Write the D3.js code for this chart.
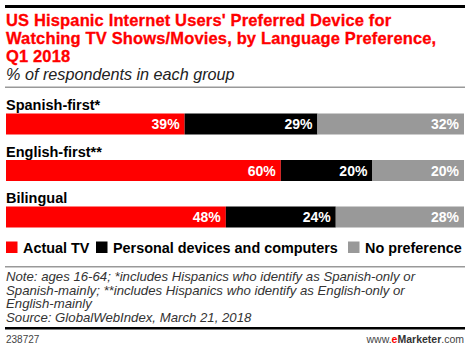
<!DOCTYPE html>
<html><head><meta charset="utf-8">
<script src="https://cdn.jsdelivr.net/npm/d3@7/dist/d3.min.js"></script>
<style>body{margin:0;background:#fff}svg{display:block}text{font-family:"Liberation Sans",Arial,sans-serif}</style>
</head><body><svg id="c" width="470" height="351"></svg>
<script>
const categories = ["Spanish-first*", "English-first**", "Bilingual"];
const seriesNames = ["Actual TV", "Personal devices and computers", "No preference"];
const actualTV = [39, 60, 48];
const personalDevices = [29, 20, 24];
const noPreference = [32, 20, 28];
const colors = ["#ff0000", "#000000", "#999999"];
const titleLines = ["US Hispanic Internet Users' Preferred Device for", "Watching TV Shows/Movies, by Language Preference,", "Q1 2018"];
const subtitle = "% of respondents in each group";
const noteLines = ["Note: ages 16-64; *includes Hispanics who identify as Spanish-only or", "Spanish-mainly; **includes Hispanics who identify as English-only or", "English-mainly", "Source: GlobalWebIndex, March 21, 2018"];

const svg = d3.select("#c");
const L = 6, R = 464;
svg.append("rect").attr("x", 5).attr("y", 5).attr("width", 460).attr("height", 3).attr("fill", "#000");
svg.append("g").selectAll("text").data(titleLines).join("text")
  .attr("x", L).attr("y", (d, i) => 26 + i * 18)
  .attr("fill", "#ff0000").attr("font-weight", "bold").attr("font-size", 16.5)
  .attr("letter-spacing", 0.15)
  .attr("stroke", "#ff0000").attr("stroke-width", 0.3).text(d => d);
svg.append("text").attr("x", L).attr("y", 80).attr("font-style", "italic").attr("font-size", 16.2).attr("fill", "#222").text(subtitle);
svg.append("rect").attr("x", 5).attr("y", 86.5).attr("width", 460).attr("height", 1.5).attr("fill", "#999");

const data = categories.map((c, i) => ({cat: c, vals: [actualTV[i], personalDevices[i], noPreference[i]]}));
const x = d3.scaleLinear().domain([0, 100]).range([L, R]);
const y = d3.scaleBand().domain(categories).range([113.5, 113.5 + 3 * 46.5]).paddingInner(0);
const barH = 21;
const rows = svg.append("g").selectAll("g").data(data).join("g")
  .attr("transform", d => `translate(0,${y(d.cat)})`);
rows.append("text").attr("x", L).attr("y", -3.5).attr("font-weight", "bold").attr("font-size", 14.5).attr("fill", "#000").text(d => d.cat);
rows.each(function(d) {
  const g = d3.select(this);
  let acc = 0;
  const segs = d.vals.map((v, j) => { const s = {v, j, x0: acc, x1: acc + v}; acc += v; return s; });
  g.selectAll("rect").data(segs).join("rect")
    .attr("x", s => x(s.x0)).attr("width", s => x(s.x1) - x(s.x0))
    .attr("y", 0).attr("height", barH).attr("fill", s => colors[s.j]);
  g.selectAll("text.v").data(segs).join("text").attr("class", "v")
    .attr("x", s => x(s.x1) - 5).attr("y", 15.5).attr("text-anchor", "end")
    .attr("fill", "#fff").attr("font-weight", "bold").attr("font-size", 14).text(s => s.v + "%");
});

const legX = [6, 96, 348];
const lg = svg.append("g").selectAll("g").data(seriesNames).join("g")
  .attr("transform", (d, i) => `translate(${legX[i]},241.5)`);
lg.append("rect").attr("width", 11.5).attr("height", 11.5).attr("fill", (d, i) => colors[i]);
lg.append("text").attr("x", 17).attr("y", 11).attr("font-weight", "bold").attr("font-size", 14.4).attr("fill", "#000").text(d => d);

svg.append("rect").attr("x", 5).attr("y", 266).attr("width", 460).attr("height", 1.5).attr("fill", "#999");
svg.append("g").selectAll("text").data(noteLines).join("text")
  .attr("x", L).attr("y", (d, i) => 281 + i * 13.6)
  .attr("font-style", "italic").attr("font-size", 13.2).attr("fill", "#333").text(d => d);
svg.append("rect").attr("x", 5).attr("y", 327).attr("width", 460).attr("height", 2.5).attr("fill", "#000");
svg.append("text").attr("x", L).attr("y", 343).attr("font-size", 10).attr("fill", "#444").text("238727");
const ft = svg.append("text").attr("x", R).attr("y", 343).attr("text-anchor", "end").attr("font-size", 10.5).attr("fill", "#444");
ft.append("tspan").text("www.");
ft.append("tspan").attr("fill", "#ff0000").attr("font-weight", "bold").text("e");
ft.append("tspan").attr("fill", "#333").attr("font-weight", "bold").text("Marketer");
ft.append("tspan").text(".com");
</script></body></html>
